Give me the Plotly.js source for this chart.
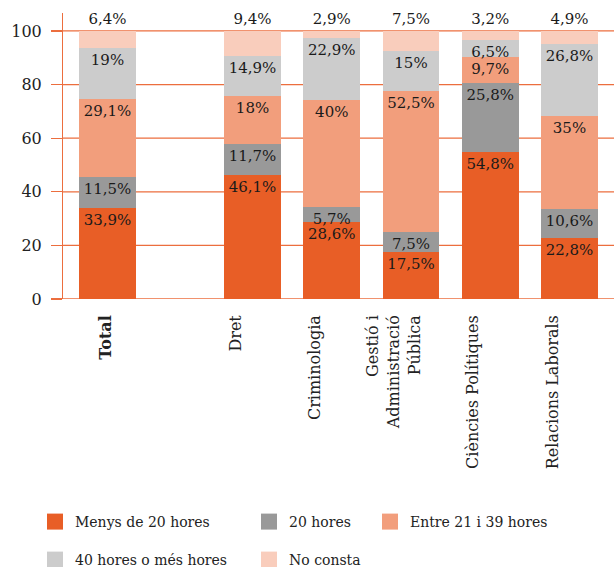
<!DOCTYPE html>
<html>
<head>
<meta charset="utf-8">
<script src="https://cdn.plot.ly/plotly-3.0.1.min.js"></script>
<style>html,body{margin:0;padding:0;background:#fff;}#chart{width:614px;height:567px;}</style>
</head>
<body>
<div id="chart"></div>
<script>
// Categories (first one is the overall total, drawn apart from the rest)
const categories = ['Total', 'Dret', 'Criminologia', 'Gestió i<br>Administració<br>Pública', 'Ciències Polítiques', 'Relacions Laborals'];
const seriesNames = ['Menys de 20 hores', '20 hores', 'Entre 21 i 39 hores', '40 hores o més hores', 'No consta'];
const menys20 = [33.9, 46.1, 28.6, 17.5, 54.8, 22.8];
const hores20 = [11.5, 11.7, 5.7, 7.5, 25.8, 10.6];
const entre21i39 = [29.1, 18, 40, 52.5, 9.7, 35];
const mes40 = [19, 14.9, 22.9, 15, 6.5, 26.8];
const noConsta = [6.4, 9.4, 2.9, 7.5, 3.2, 4.9];
const yTicks = [0, 20, 40, 60, 80, 100];

const seriesValues = [menys20, hores20, entre21i39, mes40, noConsta];
const colors = ['#E85E26', '#999999', '#F29E7C', '#CCCCCC', '#F9CDBC'];
const FONT = 'DejaVu Serif, Liberation Serif, serif';
const fmt = v => String(v).replace('.', ',') + '%';

const traces = [];
seriesValues.forEach((vals, i) => {
  const isTop = i === seriesValues.length - 1;
  const common = {
    type: 'bar',
    name: seriesNames[i],
    marker: {color: colors[i]},
    textposition: isTop ? 'outside' : 'inside',
    insidetextanchor: 'end',
    constraintext: 'none',
    textangle: 0,
    cliponaxis: false,
    textfont: {family: FONT, size: 15, color: '#1a1a1a'},
    showlegend: false,
    hoverinfo: 'skip'
  };
  traces.push(Object.assign({}, common, {
    x: categories.slice(0, 1), y: vals.slice(0, 1), text: vals.slice(0, 1).map(fmt),
    xaxis: 'x', yaxis: 'y'
  }));
  traces.push(Object.assign({}, common, {
    x: categories.slice(1), y: vals.slice(1), text: vals.slice(1).map(fmt),
    xaxis: 'x2', yaxis: 'y'
  }));
});

// legend-only swatches, one legend per entry to reproduce the grid placement
const legendIds = ['legend', 'legend2', 'legend3', 'legend4', 'legend5'];
seriesNames.forEach((n, i) => {
  traces.push({
    type: 'scatter', mode: 'markers', name: n,
    x: [null], y: [null], xaxis: 'x2', yaxis: 'y',
    marker: {symbol: 'square', size: 16, color: colors[i]},
    legend: legendIds[i], showlegend: true, hoverinfo: 'skip'
  });
});

const W = 614, H = 567, L = 62, T = 13, B = 268;
const pw = W - L, ph = H - T - B;
const px = v => (v - L) / pw;
const py = v => (H - B - v) / ph;
const legendPos = [[35, 522], [249, 522], [370, 522], [35, 560], [249, 560]];
const legendFont = {family: FONT, size: 14, color: '#222'};

const layout = {
  width: W, height: H,
  margin: {l: L, r: 0, t: T, b: B, autoexpand: false},
  paper_bgcolor: '#fff', plot_bgcolor: '#fff',
  barmode: 'stack', bargap: 0.281,
  hovermode: false,
  font: {family: FONT, color: '#222'},
  xaxis: {
    domain: [px(67.9), px(147.1)], anchor: 'y', type: 'category',
    showgrid: false, zeroline: false, showline: false, ticks: '', automargin: false,
    tickangle: -90, tickfont: {family: FONT, size: 16, color: '#222'},
    tickvals: categories.slice(0, 1), ticktext: ['<b>' + categories[0] + '</b>'],
    ticklabelstandoff: 12, ticklabelshift: -2
  },
  xaxis2: {
    domain: [px(212.9), px(609.1)], anchor: 'y', type: 'category',
    showgrid: false, zeroline: false, showline: false, ticks: '', automargin: false,
    tickangle: -90, tickfont: {family: FONT, size: 16, color: '#222'},
    ticklabelstandoff: 12, ticklabelshift: -17
  },
  yaxis: {
    range: [0, 106.7], anchor: 'free', position: 0, automargin: false,
    showgrid: false, zeroline: false,
    showline: true, linecolor: '#EC6E3E', linewidth: 1.3,
    ticks: 'outside', ticklen: 11, tickcolor: '#EC6E3E', tickwidth: 1.3,
    tickvals: yTicks, ticktext: yTicks.map(String),
    tickfont: {family: FONT, size: 16, color: '#222'},
    ticklabelstandoff: 6
  },
  shapes: yTicks.map(v => ({
    type: 'line', layer: 'below', xref: 'paper', yref: 'y',
    x0: 0, x1: 1, y0: v, y1: v,
    line: {color: '#EC6E3E', width: 1.3}
  })),
  showlegend: true
};
legendIds.forEach((id, i) => {
  layout[id] = {
    x: px(legendPos[i][0]), y: py(legendPos[i][1]),
    xanchor: 'left', yanchor: 'middle', orientation: 'v',
    bgcolor: 'rgba(0,0,0,0)', borderwidth: 0,
    font: legendFont
  };
});

Plotly.newPlot('chart', traces, layout, {displayModeBar: false, staticPlot: true});
</script>
</body>
</html>
